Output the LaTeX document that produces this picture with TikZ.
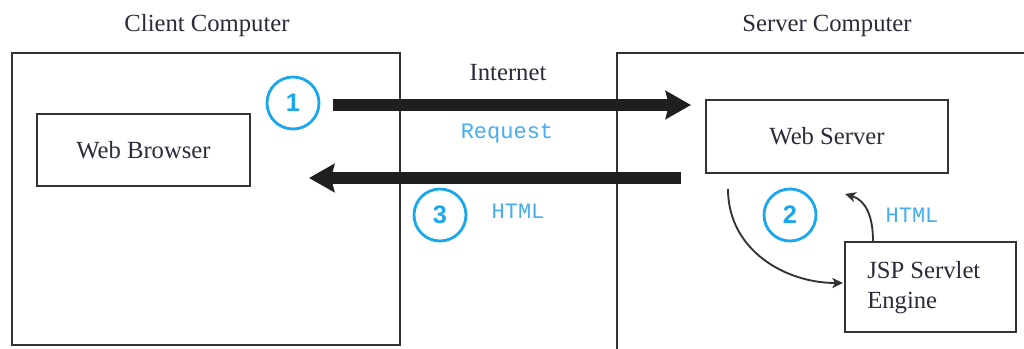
\documentclass[tikz,border=0pt]{standalone}
\usepackage{fontspec}
\setmainfont{Liberation Serif}
\setmonofont{Liberation Mono}
\newfontfamily\numfont{Liberation Sans}
\usetikzlibrary{arrows.meta}
\definecolor{linegray}{HTML}{333333}
\definecolor{txtcol}{HTML}{2E2A3A}
\definecolor{circblue}{HTML}{1AA7EC}
\definecolor{monoblue}{HTML}{45ADF0}
\tikzset{
  boxline/.style={draw=linegray, line width=1.3pt},
  serif/.style={text=txtcol, font=\fontsize{18.5}{22}\selectfont, inner sep=0pt},
  mono/.style={text=monoblue, font=\ttfamily\fontsize{16.5}{20}\selectfont, inner sep=0pt},
  numcirc/.style={circle, draw=circblue, line width=2.1pt, minimum size=39pt, inner sep=0pt,
    text=circblue, font=\numfont\bfseries\fontsize{19}{21}\selectfont},
  bigarrow/.style={line width=9pt, draw=black!88, -{Stealth[length=19pt,width=21pt,inset=2.5pt]}},
  thinarrow/.style={line width=1.4pt, draw=linegray, -{Stealth[length=8pt,width=7.5pt,inset=2pt]}},
}
\begin{document}
\begin{tikzpicture}[x=0.75pt,y=-0.75pt]
\useasboundingbox[fill=white] (0,0) rectangle (1024,349);
% containers
\node[serif] (clienttitle) at (207,26) {Client Computer};
\node[serif] (servertitle) at (827,26) {Server Computer};
\draw[boxline] (12,53) rectangle (400,345);
\draw[boxline] (1030,53) -- (617,53) -- (617,355);
% boxes
\node[boxline, rectangle, minimum width=159.75pt, minimum height=54pt, serif, inner sep=0pt] (wb) at (143.5,150) {Web Browser};
\node[boxline, rectangle, minimum width=181.5pt, minimum height=54.75pt, serif, inner sep=0pt] (ws) at (827,136.5) {Web Server};
\node[boxline, rectangle, minimum width=128.25pt, minimum height=67.5pt, serif, inner sep=0pt] (jsp) at (930.5,287) {};
\node[serif, align=left, font=\fontsize{18.5}{22.5}\selectfont, anchor=west] (jsptext) at (867,288) {JSP Servlet\\Engine};
% labels
\node[serif] (internet) at (508,73) {Internet};
\node[mono] (request) at (507,133) {Request};
\node[mono] (html1) at (518,211) {HTML};
\node[mono] (html2) at (912,215) {HTML};
% numbers
\node[numcirc] (c1) at (293,103) {1};
\node[numcirc] (c2) at (790,215) {2};
\node[numcirc] (c3) at (440,215) {3};
% big arrows
\coordinate (a1s) at (333,105);
\coordinate (a1e) at (691,105);
\coordinate (a3s) at (681,178);
\coordinate (a3e) at (309,178);
\draw[bigarrow] (a1s) -- (a1e);
\draw[bigarrow] (a3s) -- (a3e);
% curved arrows
\coordinate (ca1) at (728,189);
\coordinate (ca2) at (843,283);
\draw[thinarrow] (ca1) .. controls (728,250) and (785,283) .. (ca2);
\coordinate (cb1) at (873,241);
\coordinate (cb2) at (845,194);
\draw[thinarrow] (cb1) .. controls (873,215) and (865,200) .. (cb2);
\end{tikzpicture}
\end{document}
